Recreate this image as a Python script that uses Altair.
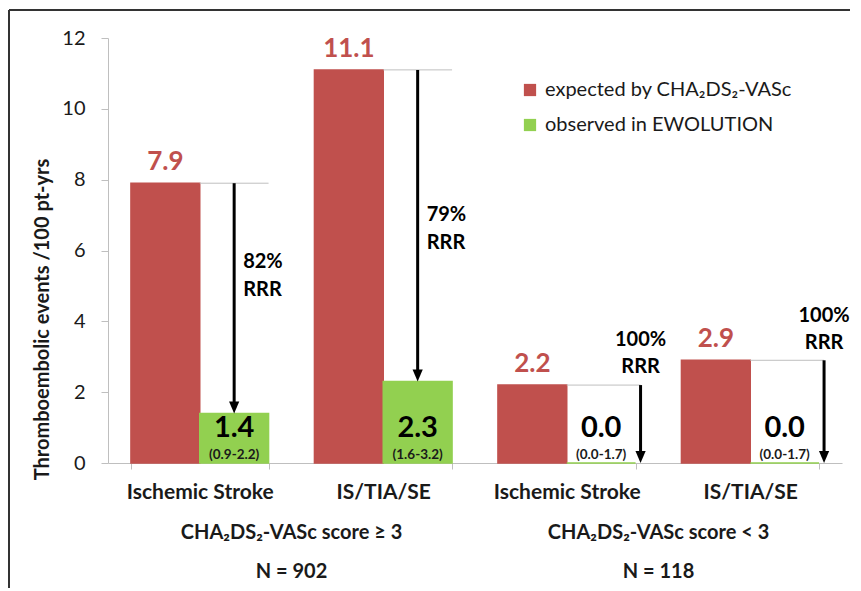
import altair as alt
import pandas as pd

# ---------------- data ----------------
cats = ["IS_hi", "ALL_hi", "IS_lo", "ALL_lo"]
cat_labels = ["Ischemic Stroke", "IS/TIA/SE", "Ischemic Stroke", "IS/TIA/SE"]
series = ["expected by CHA₂DS₂-VASc", "observed in EWOLUTION"]
expected = [7.9, 11.1, 2.2, 2.9]
observed = [1.4, 2.3, 0.0, 0.0]
ci_text = ["(0.9-2.2)", "(1.6-3.2)", "(0.0-1.7)", "(0.0-1.7)"]
rrr_pct = ["82%", "79%", "100%", "100%"]
groups = ["CHA₂DS₂-VASc score ≥ 3", "CHA₂DS₂-VASc score < 3"]
group_n = ["N = 902", "N = 118"]
group_anchor = ["ALL_hi", "ALL_lo"]   # groups are centred on the gap before these categories

# annotation layout (data units)
rrr_y_top = [5.68, 7.0, 3.47, 4.15]
rrr_y_bot = [4.89, 6.21, 2.72, 3.39]
OBS_LABEL_Y = 0.99
CI_LABEL_Y = 0.24

# ---------------- styling ----------------
RED = "#C0504D"
GREEN = "#92D050"
AXIS_GRAY = "#BFBFBF"
TXT = "#1a1a1a"
FONT = "Lato"

W, H = 734, 425
step = W / 4
band = step * 0.75
sub = band / 2

bars = pd.DataFrame({
    "cat": cats * 2,
    "series": [series[0]] * 4 + [series[1]] * 4,
    "value": expected + observed,
})
ann = pd.DataFrame({
    "cat": cats,
    "exp": expected,
    "obs": observed,
    "obs_lbl": [f"{v:.1f}" for v in observed],
    "exp_lbl": [f"{v:.1f}" for v in expected],
    "ci": ci_text,
    "pct": rrr_pct,
    "ry1": rrr_y_top,
    "ry2": rrr_y_bot,
    "obs_y": [OBS_LABEL_Y] * 4,
    "ci_y": [CI_LABEL_Y] * 4,
})
hi = ann[ann["cat"].isin(cats[:2])]
lo = ann[ann["cat"].isin(cats[2:])]
grp = pd.DataFrame({"cat": group_anchor, "g": groups, "n": group_n})

label_expr = " : ".join(
    [f"datum.value == '{c}' ? '{l}'" for c, l in zip(cats, cat_labels)]
) + " : ''"

xscale = alt.Scale(domain=cats, paddingInner=0.25, paddingOuter=0.125)
xoff_scale = alt.Scale(domain=series, paddingInner=0, paddingOuter=0)
yscale = alt.Scale(domain=[0, 12], nice=False)

X = alt.X("cat:N", scale=xscale, title=None,
          axis=alt.Axis(labelExpr=label_expr, labelAngle=0, tickBand="extent",
                        labelFont=FONT, labelFontSize=21, labelFontWeight="bold",
                        labelColor=TXT, labelPadding=12, tickSize=6,
                        domainColor=AXIS_GRAY, tickColor=AXIS_GRAY))
Y = alt.Y("value:Q", scale=yscale, title="Thromboembolic events /100 pt-yrs",
          axis=alt.Axis(values=[0, 2, 4, 6, 8, 10, 12], grid=False,
                        labelFont=FONT, labelFontSize=20, labelColor=TXT,
                        labelPadding=16, tickSize=7,
                        domainColor=AXIS_GRAY, tickColor=AXIS_GRAY,
                        titleFont=FONT, titleFontSize=20, titleFontWeight="bold",
                        titleColor=TXT, titleAngle=-90, titleAlign="center",
                        titleBaseline="middle", titleX=-66, titleY=281))

color = alt.Color("series:N", scale=alt.Scale(domain=series, range=[RED, GREEN]),
                  legend=alt.Legend(title=None, orient="none", legendX=412, legendY=42,
                                    symbolType="square", symbolSize=150,
                                    symbolStrokeWidth=0, labelFont=FONT,
                                    labelFontSize=20, labelColor=TXT, labelLimit=500,
                                    rowPadding=15, padding=0, labelOffset=5))

bar_layer = alt.Chart(bars).mark_bar(strokeWidth=1.5).encode(
    x=X, xOffset=alt.XOffset("series:N", scale=xoff_scale), y=Y, color=color,
    stroke=alt.Stroke("series:N", scale=alt.Scale(domain=series, range=[RED, GREEN]), legend=None),
)


def xat(pos):
    return alt.X("cat:N", scale=xscale, bandPosition=pos)


HI_ARROW = (0.75, 0)   # centre of the observed bar
LO_ARROW = (1.0, 5)    # just right of the observed bar

# gray reference lines at expected level, from red bar edge across the observed slot
ref_hi = alt.Chart(hi).mark_rule(color=AXIS_GRAY, strokeWidth=1).encode(
    x=xat(0.5), x2=alt.X2("cat:N", bandPosition=1), y=alt.Y("exp:Q", scale=yscale))
ref_lo = alt.Chart(lo).mark_rule(color=AXIS_GRAY, strokeWidth=1, x2Offset=5).encode(
    x=xat(0.5), x2=alt.X2("cat:N", bandPosition=1), y=alt.Y("exp:Q", scale=yscale))

ARROW = "M-0.85,-1L0.85,-1L0,1Z"


def arrows(df, spec):
    pos, off = spec
    shaft = alt.Chart(df).mark_rule(color="black", strokeWidth=3, y2Offset=-8,
                                    xOffset=off).encode(
        x=xat(pos), y=alt.Y("exp:Q", scale=yscale), y2="obs:Q")
    head = alt.Chart(df).mark_point(shape=ARROW, filled=True, color="black", opacity=1,
                                    size=144, yOffset=-6, xOffset=off, strokeWidth=0).encode(
        x=xat(pos), y=alt.Y("obs:Q", scale=yscale))
    return shaft + head


arr_hi = arrows(hi, HI_ARROW)
arr_lo = arrows(lo, LO_ARROW)

exp_txt = alt.Chart(ann).mark_text(font=FONT, fontSize=26, fontWeight="bold", color=RED,
                                   baseline="alphabetic", dy=-13).encode(
    x=xat(0.25), y=alt.Y("exp:Q", scale=yscale), text="exp_lbl:N")
obs_txt = alt.Chart(ann).mark_text(font=FONT, fontSize=29, fontWeight="bold", color="black",
                                   baseline="middle").encode(
    x=xat(0.75), y=alt.Y("obs_y:Q", scale=yscale), text="obs_lbl:N")
ci_txt = alt.Chart(ann).mark_text(font=FONT, fontSize=13.5, fontWeight="bold", color=TXT,
                                  baseline="middle").encode(
    x=xat(0.75), y=alt.Y("ci_y:Q", scale=yscale), text="ci:N")


def rrr_layers(df, spec, dx, align):
    pos, off = spec
    base = alt.Chart(df)
    kw = dict(font=FONT, fontSize=20, fontWeight="bold", color="black",
              baseline="middle", align=align, dx=dx + off)
    t1 = base.mark_text(**kw).encode(x=xat(pos), y=alt.Y("ry1:Q", scale=yscale), text="pct:N")
    t2 = base.mark_text(**kw).encode(x=xat(pos), y=alt.Y("ry2:Q", scale=yscale),
                                     text=alt.value("RRR"))
    return t1 + t2


rrr_hi = rrr_layers(hi, HI_ARROW, 9, "left")
rrr_lo = rrr_layers(lo, LO_ARROW, 0, "center")

gap_shift = -(step - band) / 2
grp_txt = alt.Chart(grp).mark_text(font=FONT, fontSize=20, fontWeight="bold", color=TXT,
                                   baseline="middle", dx=gap_shift).encode(
    x=xat(0), y=alt.value(H + 70), text="g:N")
n_txt = alt.Chart(grp).mark_text(font=FONT, fontSize=20, fontWeight="bold", color=TXT,
                                 baseline="middle", dx=gap_shift).encode(
    x=xat(0), y=alt.value(H + 109), text="n:N")

# slide frame
frame_top = alt.Chart(grp).mark_rule(color="#333333", strokeWidth=2).encode(
    x=alt.value(-99), x2=alt.value(W + 20), y=alt.value(-28))
frame_left = alt.Chart(grp).mark_rule(color="#333333", strokeWidth=2).encode(
    x=alt.value(-99), y=alt.value(-28), y2=alt.value(H + 140))

chart = alt.layer(
    bar_layer, ref_hi, ref_lo, arr_hi, arr_lo, exp_txt, obs_txt, ci_txt,
    rrr_hi, rrr_lo, grp_txt, n_txt, frame_top, frame_left,
).properties(
    width=W, height=H,
    padding={"left": 100, "top": 30, "right": 8, "bottom": 125},
    autosize=alt.AutoSizeParams(type="none"),
).configure_view(stroke=None).configure_axis(domainWidth=1, tickWidth=1)

chart.save("out.html", embed_options={"renderer": "svg", "actions": False})
